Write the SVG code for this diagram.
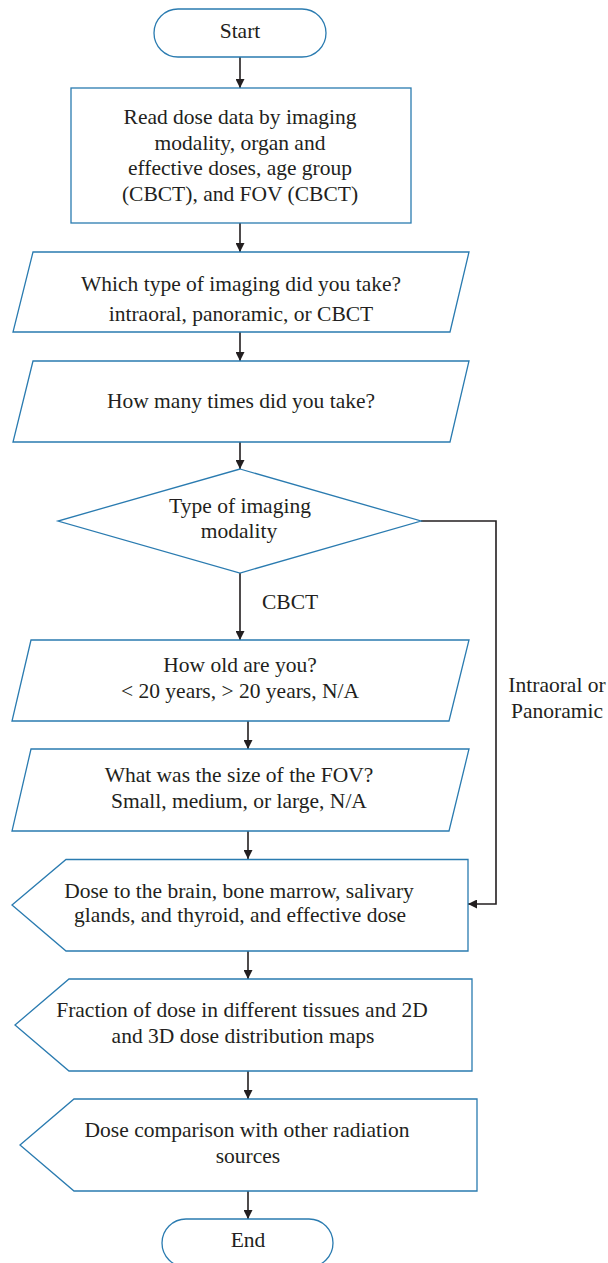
<svg xmlns="http://www.w3.org/2000/svg" width="608" height="1263" viewBox="0 0 608 1263">
<defs>
<marker id="arr" viewBox="0 0 10 10" refX="10" refY="5" markerWidth="9" markerHeight="9" markerUnits="userSpaceOnUse" orient="auto">
<path d="M0,0 L10,5 L0,10 Z" fill="#231f20"/>
</marker>
<style>
.s{fill:#ffffff;stroke:#2a7bb0;stroke-width:1.3}
.t{font-family:"Liberation Serif","Times New Roman",serif;font-size:21.5px;fill:#231f20;text-anchor:middle}
.c{fill:none;stroke:#231f20;stroke-width:1.6}
</style>
</defs>
<rect width="608" height="1263" fill="#ffffff"/>
<g id="connectors">
<line class="c" x1="240" y1="57" x2="240" y2="88" marker-end="url(#arr)"/>
<line class="c" x1="240" y1="223" x2="240" y2="252" marker-end="url(#arr)"/>
<line class="c" x1="240" y1="332" x2="240" y2="361" marker-end="url(#arr)"/>
<line class="c" x1="240" y1="442" x2="240" y2="469" marker-end="url(#arr)"/>
<line class="c" x1="240" y1="573" x2="240" y2="640" marker-end="url(#arr)"/>
<line class="c" x1="248" y1="721" x2="248" y2="749" marker-end="url(#arr)"/>
<line class="c" x1="248" y1="831" x2="248" y2="859" marker-end="url(#arr)"/>
<line class="c" x1="248" y1="951" x2="248" y2="979" marker-end="url(#arr)"/>
<line class="c" x1="248" y1="1071" x2="248" y2="1099" marker-end="url(#arr)"/>
<line class="c" x1="248" y1="1191" x2="248" y2="1219" marker-end="url(#arr)"/>
<polyline class="c" points="421,521 496,521 496,904 468,904" marker-end="url(#arr)"/>
<text class="t" x="262" y="609" style="text-anchor:start">CBCT</text>
<text class="t" x="557" y="692">Intraoral or</text>
<text class="t" x="557" y="718">Panoramic</text>
</g>
<g id="start">
<rect class="s" x="154" y="9" width="172" height="48" rx="24" ry="24"/>
<text class="t" x="240" y="38">Start</text>
</g>
<g id="read">
<rect class="s" x="71" y="88" width="340" height="135"/>
<text class="t" x="240" y="124">Read dose data by imaging</text>
<text class="t" x="240" y="149.5">modality, organ and</text>
<text class="t" x="240" y="175">effective doses, age group</text>
<text class="t" x="240" y="200.5">(CBCT), and FOV (CBCT)</text>
</g>
<g id="type">
<polygon class="s" points="33,252 469,252 450,332 13,332"/>
<text class="t" x="241" y="291">Which type of imaging did you take?</text>
<text class="t" x="241" y="321">intraoral, panoramic, or CBCT</text>
</g>
<g id="times">
<polygon class="s" points="33,361 469,361 450,442 13,442"/>
<text class="t" x="241" y="408">How many times did you take?</text>
</g>
<g id="decision">
<polygon class="s" points="240,469 421,521 240,573 58,521"/>
<text class="t" x="240" y="513">Type of imaging</text>
<text class="t" x="239" y="538">modality</text>
</g>
<g id="age">
<polygon class="s" points="31,640 469,640 449,721 12,721"/>
<text class="t" x="240" y="672">How old are you?</text>
<text class="t" x="240" y="698">&lt; 20 years, &gt; 20 years, N/A</text>
</g>
<g id="fov">
<polygon class="s" points="31,749 469,749 449,831 12,831"/>
<text class="t" x="239" y="782">What was the size of the FOV?</text>
<text class="t" x="239" y="808">Small, medium, or large, N/A</text>
</g>
<g id="doses">
<polygon class="s" points="12,905 66,859.5 468,859.5 468,951 66,951"/>
<text class="t" x="239" y="898">Dose to the brain, bone marrow, salivary</text>
<text class="t" x="240" y="922">glands, and thyroid, and effective dose</text>
</g>
<g id="fraction">
<polygon class="s" points="15,1025 69,979 472,979 472,1071 69,1071"/>
<text class="t" x="242" y="1017">Fraction of dose in different tissues and 2D</text>
<text class="t" x="243" y="1043">and 3D dose distribution maps</text>
</g>
<g id="comparison">
<polygon class="s" points="20,1145 74,1099 477,1099 477,1191 74,1191"/>
<text class="t" x="247" y="1137">Dose comparison with other radiation</text>
<text class="t" x="248" y="1163">sources</text>
</g>
<g id="end">
<rect class="s" x="162" y="1219" width="171" height="48" rx="24" ry="24"/>
<text class="t" x="248" y="1247">End</text>
</g>
</svg>
